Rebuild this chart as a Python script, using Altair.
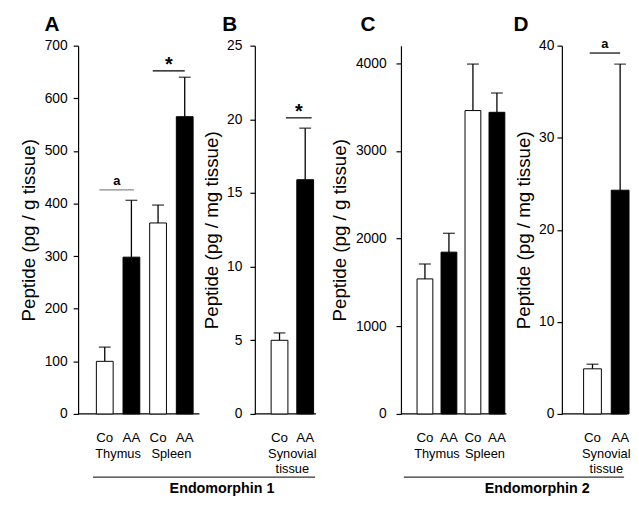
import altair as alt
import pandas as pd

FONT = "Liberation Sans"

# ---------------- data ----------------
groups4 = ["Co", "AA", "Co", "AA"]
groups2 = ["Co", "AA"]
tissues4 = ["Thymus", "Spleen"]
tissue_syn = ["Synovial", "tissue"]

A_mean = [100, 298, 363, 565]
A_upper = [127, 406, 397, 640]
B_mean = [5.0, 15.9]
B_upper = [5.5, 19.4]
C_mean = [1540, 1845, 3460, 3440]
C_upper = [1710, 2060, 3990, 3660]
D_mean = [4.9, 24.3]
D_upper = [5.4, 38.0]

A_ticks = [0, 100, 200, 300, 400, 500, 600, 700]
B_ticks = [0, 5, 10, 15, 20, 25]
C_ticks = [0, 1000, 2000, 3000, 4000]
D_ticks = [0, 10, 20, 30, 40]

title_g = "Peptide (pg / g tissue)"
title_mg = "Peptide (pg / mg tissue)"

H = 373


def panel(mean, upper, groups, ydom, yticks, ytitle, xdom, axis_end, width,
          bar, lab_pad, title_pad, letter, letter_dx, tissue_pos, tissue_rows,
          sigs, endo=None):
    df = pd.DataFrame({"pos": list(range(1, len(mean) + 1)), "group": groups,
                       "mean": mean, "upper": upper})
    xs = alt.Scale(domain=xdom, nice=False, zero=False, padding=0)
    ys = alt.Scale(domain=ydom, nice=False, zero=True, padding=0)
    yaxis = alt.Axis(values=yticks, title=ytitle, grid=False, tickSize=5,
                     labelPadding=lab_pad, titlePadding=title_pad, format="d",
                     labelFont=FONT, titleFont=FONT, labelFontSize=14,
                     titleFontSize=19, titleFontWeight="normal",
                     labelColor="black", titleColor="black",
                     domainColor="black", tickColor="black",
                     domainWidth=1.2, tickWidth=1.2)
    x = alt.X("pos:Q", scale=xs, axis=None)
    base = alt.Chart(df)
    err = base.mark_rule(color="black", strokeWidth=1.3).encode(
        x=x, y=alt.Y("mean:Q", scale=ys, axis=yaxis), y2="upper:Q")
    cap = base.mark_tick(orient="horizontal", size=12, thickness=1.4,
                         color="black").encode(
        x=x, y=alt.Y("upper:Q", scale=ys, axis=yaxis))
    bars = base.mark_bar(size=bar, stroke="black", strokeWidth=1).encode(
        x=x, y=alt.Y("mean:Q", scale=ys, axis=yaxis),
        color=alt.Color("group:N", scale=alt.Scale(domain=["Co", "AA"],
                                                  range=["white", "black"]),
                        legend=None))
    grp_lab = base.mark_text(font=FONT, fontSize=13.5, baseline="alphabetic",
                             color="black").encode(
        x=x, y=alt.value(H + 28), text="group:N")
    baseline = alt.Chart(pd.DataFrame({"x0": [xdom[0]], "x1": [axis_end]})).mark_rule(
        color="black", strokeWidth=1.2).encode(
        x=alt.X("x0:Q", scale=xs, axis=None), x2="x1:Q", y=alt.datum(0))
    layers = [baseline, err, bars, cap, grp_lab]
    for i, row in enumerate(tissue_rows):
        tdf = pd.DataFrame({"p": tissue_pos[:len(row)], "t": row})
        layers.append(alt.Chart(tdf).mark_text(
            font=FONT, fontSize=13, baseline="alphabetic", color="black").encode(
            x=alt.X("p:Q", scale=xs, axis=None), y=alt.value(H + 45 + 15 * i),
            text="t:N"))
    for (lab, x1, x2, yv, col, bold, fs, dy) in sigs:
        sdf = pd.DataFrame({"x1": [x1], "x2": [x2], "y": [yv], "m": [(x1 + x2) / 2],
                            "lab": [lab]})
        layers.append(alt.Chart(sdf).mark_rule(color=col, strokeWidth=1.2).encode(
            x=alt.X("x1:Q", scale=xs, axis=None), x2="x2:Q",
            y=alt.Y("y:Q", scale=ys, axis=yaxis)))
        layers.append(alt.Chart(sdf).mark_text(
            font=FONT, fontSize=fs, fontWeight="bold" if bold else "normal",
            dy=dy, baseline="alphabetic", color="black").encode(
            x=alt.X("m:Q", scale=xs, axis=None),
            y=alt.Y("y:Q", scale=ys, axis=yaxis), text="lab:N"))
    layers.append(alt.Chart(pd.DataFrame({"t": [letter]})).mark_text(
        font=FONT, fontSize=21, fontWeight="bold", align="left",
        baseline="alphabetic", color="black").encode(
        x=alt.value(letter_dx), y=alt.value(-15), text="t:N"))
    if endo is not None:
        name, ex1, ex2, etx = endo
        edf = pd.DataFrame({"x1": [ex1], "x2": [ex2], "tx": [etx], "t": [name]})
        layers.append(alt.Chart(edf).mark_rule(color="#333333", strokeWidth=1.2).encode(
            x=alt.X("x1:Q", scale=xs, axis=None), x2="x2:Q", y=alt.value(H + 64)))
        layers.append(alt.Chart(edf).mark_text(
            font=FONT, fontSize=14.5, fontWeight="bold", baseline="alphabetic",
            color="black").encode(
            x=alt.X("tx:Q", scale=xs, axis=None), y=alt.value(H + 80), text="t:N"))
    return alt.layer(*layers).properties(width=width, height=H)


pA = panel(A_mean, A_upper, groups4, [0, 700], A_ticks, title_g,
           [0, 6.63], 4.55, 179, 17, 6, 6, "A", -34, [1.5, 3.5], [tissues4],
           [("a", 0.8, 2.1, 426, "#8a8a8a", True, 13, -5),
            ("*", 2.8, 4.0, 652, "black", True, 20, 0)],
           endo=("Endomorphin 1", 0.56, 8.89, 5.4))
pB = panel(B_mean, B_upper, groups2, [0, 25], B_ticks, title_mg,
           [0.038, 5.73], 2.42, 148, 17, 8, 5, "B", -33, [1.5, 1.5],
           [tissue_syn[:1], tissue_syn[1:]],
           [("*", 1.25, 2.25, 20.1, "black", True, 20, 0)])
pC = panel(C_mean, C_upper, groups4, [0, 4200], C_ticks, title_g,
           [0, 6.708], 4.40, 163, 16, 10, 6, "C", -41, [1.5, 3.5], [tissues4],
           [], endo=("Endomorphin 2", 0.12, 9.3, 5.68))
pD = panel(D_mean, D_upper, groups2, [0, 40], D_ticks, title_mg,
           [-0.107, 2.25], 2.25, 66, 18, 3, 5, "D", -49, [1.5, 1.5],
           [tissue_syn[:1], tissue_syn[1:]],
           [("a", 0.9, 2.0, 39.2, "black", True, 13, -5)])

chart = alt.hconcat(pA, pB, pC, pD, spacing=0, bounds="flush").properties(
    padding={"left": 11, "top": 3, "right": 0, "bottom": 0},
    background="white"
).configure_view(stroke=None)

chart.save("out.html", embed_options={"renderer": "svg", "actions": False})
